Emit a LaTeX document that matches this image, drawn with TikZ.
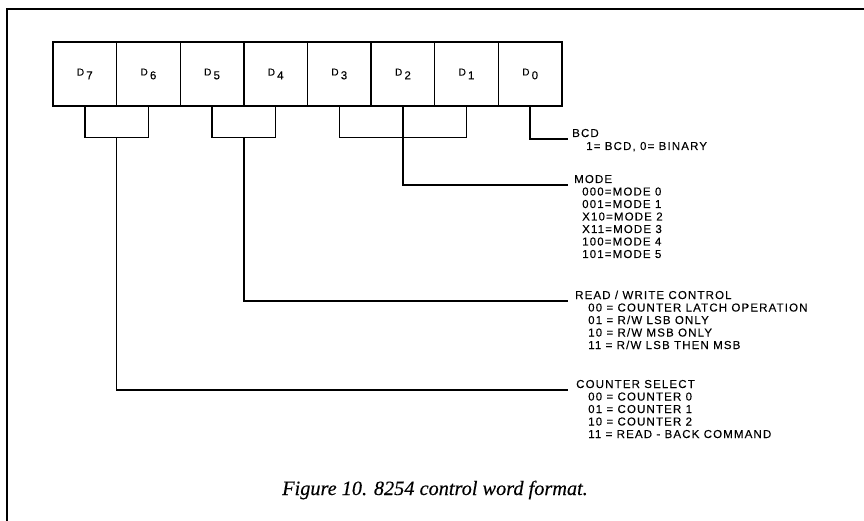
\documentclass[tikz,border=0pt]{standalone}
\usepackage{fontspec}
\setmainfont{Liberation Serif}
\newfontfamily\lblfont[LetterSpace=10,FakeBold=0.12]{Liberation Sans}
\newfontfamily\bitfont[FakeBold=0.15]{Liberation Sans}
\newfontfamily\capfont[FakeBold=0.3]{Liberation Serif Italic}
\newcommand{\bitlabel}[1]{{\fontsize{10}{11}\selectfont D}\hspace{2.2pt}\raisebox{-3.8pt}{\fontsize{11.5}{12}\selectfont #1}}
\usetikzlibrary{calc}
\begin{document}
\begin{tikzpicture}[x=1pt,y=-1pt,
  bit/.style={draw, line width=1.4pt, minimum width=63.625pt, minimum height=64pt, inner sep=0pt,
    font=\bitfont},
  wire/.style={line width=1.4pt},
  frameline/.style={line width=2pt},
  hdr/.style={anchor=base west, inner sep=0pt, font=\lblfont\fontsize{11.5}{13}\selectfont},
  subline/.style={anchor=base west, inner sep=0pt, font=\lblfont\fontsize{11.5}{13}\selectfont},
  captext/.style={anchor=base, inner sep=0pt, font=\capfont\fontsize{20.3}{24}\selectfont},
]
\useasboundingbox (0,0) rectangle (864,521);
\draw[frameline] (7,521) -- (7,9) -- (864,9);

% bit boxes
\foreach \i in {0,...,7} {
  \node[bit] (d\i) at ({53+63.625*(7-\i)+31.8125}, 74) {\bitlabel{\i}};
}

% line ends
\coordinate (bcdend) at (568,139);
\coordinate (modeend) at (568,185);
\coordinate (rwend) at (568,301);
\coordinate (csend) at (568,390);

% brackets
\coordinate (b76) at ($(d7.south)!0.5!(d6.south)+(0,31)$);
\coordinate (b54) at ($(d5.south)!0.5!(d4.south)+(0,31)$);
\draw[wire] (d7.south) -- ++(0,31) -| (d6.south);
\draw[wire] (d5.south) -- ++(0,31) -| (d4.south);
\draw[wire] (d3.south) -- ++(0,31) -| (d1.south);

% connectors
\draw[wire] (d0.south) |- (bcdend);
\draw[wire] (d2.south) |- (modeend);
\draw[wire] (b54) |- (rwend);
\draw[wire] (b76) |- (csend);

% labels
\node[hdr] (bcd) at (572,137) {BCD};
\node[subline] (bcd1) at (586,150) {1= BCD, 0= BINARY};

\node[hdr] (mode) at (574,183) {MODE};
\foreach \t [count=\k] in {000=MODE 0, 001=MODE 1, X10=MODE 2, X11=MODE 3, 100=MODE 4, 101=MODE 5} {
  \node[subline] (mode\k) at (582,{183+12.5*\k}) {\t};
}

\node[hdr] (rw) at (575,299) {READ / WRITE CONTROL};
\foreach \t [count=\k] in {00 = COUNTER LATCH OPERATION, 01 = R/W LSB ONLY, 10 = R/W MSB ONLY, 11 = R/W LSB THEN MSB} {
  \node[subline] (rw\k) at (588,{299+12.5*\k}) {\t};
}

\node[hdr] (cs) at (576,388) {COUNTER SELECT};
\foreach \t [count=\k] in {00 = COUNTER 0, 01 = COUNTER 1, 10 = COUNTER 2, 11 = READ - BACK COMMAND} {
  \node[subline] (cs\k) at (588,{388+12.5*\k}) {\t};
}

\node[captext] (caption) at (435,495) {Figure 10. 8254 control word format.};
\end{tikzpicture}
\end{document}
